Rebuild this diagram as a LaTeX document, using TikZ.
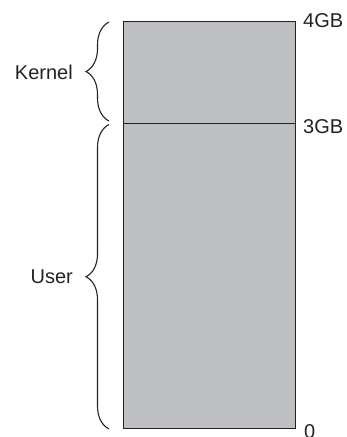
\documentclass[tikz,border=0pt]{standalone}
\usepackage{fontspec}
\setmainfont{Liberation Sans}
\usetikzlibrary{decorations.pathreplacing}
\definecolor{memgray}{RGB}{190,191,194}
\definecolor{linegray}{RGB}{35,35,35}
\begin{document}
\begin{tikzpicture}[x=1pt,y=-1pt,
  lbl/.style={font=\fontsize{20}{24}\selectfont, inner sep=0pt, text=linegray},
  bracestyle/.style={draw=linegray, line width=1.1pt, decorate, decoration={brace, amplitude=23pt}}]
\useasboundingbox (0,0) rectangle (347,437);
\node[draw=linegray, fill=memgray, line width=1.1pt, minimum width=172pt, minimum height=407pt, inner sep=0pt, anchor=north west] (mem) at (123,21) {};
\coordinate (divl) at (123,123.5);
\coordinate (divr) at (295,123.5);
\draw[linegray, line width=1.1pt] (divl) -- (divr);
\node[lbl, anchor=base west] (g4) at (303,27.7) {4GB};
\node[lbl, anchor=base west] (g3) at (303,133.3) {3GB};
\node[lbl, anchor=base west] (g0) at (304,438) {0};
\coordinate (kb) at (109,121);
\coordinate (kt) at (109,22);
\coordinate (ub) at (109,429);
\coordinate (ut) at (109,124.5);
\draw[bracestyle] (kb) -- (kt);
\draw[bracestyle] (ub) -- (ut);
\node[lbl, anchor=base east] (kernel) at (73,79.3) {Kernel};
\node[lbl, anchor=base east] (user) at (73,283.3) {User};
\end{tikzpicture}
\end{document}
